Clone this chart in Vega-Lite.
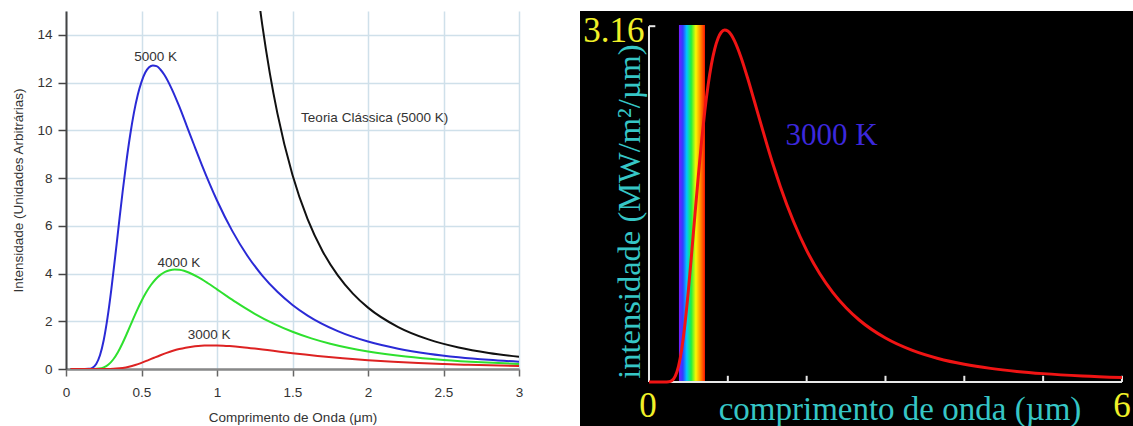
{
  "$schema": "https://vega.github.io/schema/vega-lite/v6.json",
  "background": "white",
  "padding": {"left": 11, "top": 11, "right": 0, "bottom": 0},
  "spacing": 57,
  "config": {"view": {"stroke": null}, "font": "Liberation Sans"},
  "datasets": {
    "curves": [
      {"curve": "5000 K", "lambda": 0.03, "I": 0},
      {"curve": "5000 K", "lambda": 0.1, "I": 0},
      {"curve": "5000 K", "lambda": 0.15, "I": 0.0073},
      {"curve": "5000 K", "lambda": 0.175, "I": 0.0521},
      {"curve": "5000 K", "lambda": 0.2, "I": 0.2088},
      {"curve": "5000 K", "lambda": 0.225, "I": 0.5731},
      {"curve": "5000 K", "lambda": 0.25, "I": 1.216},
      {"curve": "5000 K", "lambda": 0.275, "I": 2.149},
      {"curve": "5000 K", "lambda": 0.3, "I": 3.327},
      {"curve": "5000 K", "lambda": 0.325, "I": 4.664},
      {"curve": "5000 K", "lambda": 0.35, "I": 6.061},
      {"curve": "5000 K", "lambda": 0.375, "I": 7.427},
      {"curve": "5000 K", "lambda": 0.4, "I": 8.692},
      {"curve": "5000 K", "lambda": 0.425, "I": 9.804},
      {"curve": "5000 K", "lambda": 0.45, "I": 10.74},
      {"curve": "5000 K", "lambda": 0.475, "I": 11.48},
      {"curve": "5000 K", "lambda": 0.5, "I": 12.03},
      {"curve": "5000 K", "lambda": 0.525, "I": 12.42},
      {"curve": "5000 K", "lambda": 0.55, "I": 12.64},
      {"curve": "5000 K", "lambda": 0.575, "I": 12.72},
      {"curve": "5000 K", "lambda": 0.6, "I": 12.69},
      {"curve": "5000 K", "lambda": 0.625, "I": 12.55},
      {"curve": "5000 K", "lambda": 0.65, "I": 12.34},
      {"curve": "5000 K", "lambda": 0.7, "I": 11.74},
      {"curve": "5000 K", "lambda": 0.75, "I": 11.0},
      {"curve": "5000 K", "lambda": 0.8, "I": 10.18},
      {"curve": "5000 K", "lambda": 0.85, "I": 9.354},
      {"curve": "5000 K", "lambda": 0.9, "I": 8.545},
      {"curve": "5000 K", "lambda": 0.95, "I": 7.777},
      {"curve": "5000 K", "lambda": 1.0, "I": 7.06},
      {"curve": "5000 K", "lambda": 1.1, "I": 5.798},
      {"curve": "5000 K", "lambda": 1.2, "I": 4.758},
      {"curve": "5000 K", "lambda": 1.3, "I": 3.914},
      {"curve": "5000 K", "lambda": 1.4, "I": 3.233},
      {"curve": "5000 K", "lambda": 1.5, "I": 2.684},
      {"curve": "5000 K", "lambda": 1.6, "I": 2.24},
      {"curve": "5000 K", "lambda": 1.8, "I": 1.588},
      {"curve": "5000 K", "lambda": 2.0, "I": 1.151},
      {"curve": "5000 K", "lambda": 2.2, "I": 0.8514},
      {"curve": "5000 K", "lambda": 2.4, "I": 0.6419},
      {"curve": "5000 K", "lambda": 2.6, "I": 0.4923},
      {"curve": "5000 K", "lambda": 2.8, "I": 0.3833},
      {"curve": "5000 K", "lambda": 3.0, "I": 0.3027},
      {"curve": "4000 K", "lambda": 0.03, "I": 0},
      {"curve": "4000 K", "lambda": 0.125, "I": 0},
      {"curve": "4000 K", "lambda": 0.1875, "I": 0.0024},
      {"curve": "4000 K", "lambda": 0.21875, "I": 0.0171},
      {"curve": "4000 K", "lambda": 0.25, "I": 0.0684},
      {"curve": "4000 K", "lambda": 0.28125, "I": 0.1878},
      {"curve": "4000 K", "lambda": 0.3125, "I": 0.3984},
      {"curve": "4000 K", "lambda": 0.34375, "I": 0.7042},
      {"curve": "4000 K", "lambda": 0.375, "I": 1.0902},
      {"curve": "4000 K", "lambda": 0.40625, "I": 1.5284},
      {"curve": "4000 K", "lambda": 0.4375, "I": 1.986},
      {"curve": "4000 K", "lambda": 0.46875, "I": 2.434},
      {"curve": "4000 K", "lambda": 0.5, "I": 2.848},
      {"curve": "4000 K", "lambda": 0.53125, "I": 3.213},
      {"curve": "4000 K", "lambda": 0.5625, "I": 3.518},
      {"curve": "4000 K", "lambda": 0.59375, "I": 3.762},
      {"curve": "4000 K", "lambda": 0.625, "I": 3.943},
      {"curve": "4000 K", "lambda": 0.65625, "I": 4.069},
      {"curve": "4000 K", "lambda": 0.6875, "I": 4.141},
      {"curve": "4000 K", "lambda": 0.71875, "I": 4.169},
      {"curve": "4000 K", "lambda": 0.75, "I": 4.157},
      {"curve": "4000 K", "lambda": 0.78125, "I": 4.114},
      {"curve": "4000 K", "lambda": 0.8125, "I": 4.043},
      {"curve": "4000 K", "lambda": 0.875, "I": 3.848},
      {"curve": "4000 K", "lambda": 0.9375, "I": 3.604},
      {"curve": "4000 K", "lambda": 1.0, "I": 3.336},
      {"curve": "4000 K", "lambda": 1.0625, "I": 3.065},
      {"curve": "4000 K", "lambda": 1.125, "I": 2.8},
      {"curve": "4000 K", "lambda": 1.1875, "I": 2.548},
      {"curve": "4000 K", "lambda": 1.25, "I": 2.314},
      {"curve": "4000 K", "lambda": 1.375, "I": 1.9},
      {"curve": "4000 K", "lambda": 1.5, "I": 1.559},
      {"curve": "4000 K", "lambda": 1.625, "I": 1.283},
      {"curve": "4000 K", "lambda": 1.75, "I": 1.059},
      {"curve": "4000 K", "lambda": 1.875, "I": 0.8794},
      {"curve": "4000 K", "lambda": 2.0, "I": 0.7341},
      {"curve": "4000 K", "lambda": 2.25, "I": 0.5204},
      {"curve": "4000 K", "lambda": 2.5, "I": 0.3771},
      {"curve": "4000 K", "lambda": 2.75, "I": 0.279},
      {"curve": "4000 K", "lambda": 3.0, "I": 0.2103},
      {"curve": "3000 K", "lambda": 0.03, "I": 0},
      {"curve": "3000 K", "lambda": 0.1667, "I": 0},
      {"curve": "3000 K", "lambda": 0.25, "I": 0.0006},
      {"curve": "3000 K", "lambda": 0.2917, "I": 0.0041},
      {"curve": "3000 K", "lambda": 0.3333, "I": 0.0162},
      {"curve": "3000 K", "lambda": 0.375, "I": 0.0446},
      {"curve": "3000 K", "lambda": 0.4167, "I": 0.0945},
      {"curve": "3000 K", "lambda": 0.4583, "I": 0.1671},
      {"curve": "3000 K", "lambda": 0.5, "I": 0.2587},
      {"curve": "3000 K", "lambda": 0.5417, "I": 0.3627},
      {"curve": "3000 K", "lambda": 0.5833, "I": 0.4713},
      {"curve": "3000 K", "lambda": 0.625, "I": 0.5775},
      {"curve": "3000 K", "lambda": 0.6667, "I": 0.6759},
      {"curve": "3000 K", "lambda": 0.7083, "I": 0.7624},
      {"curve": "3000 K", "lambda": 0.75, "I": 0.8349},
      {"curve": "3000 K", "lambda": 0.7917, "I": 0.8927},
      {"curve": "3000 K", "lambda": 0.8333, "I": 0.9357},
      {"curve": "3000 K", "lambda": 0.875, "I": 0.9655},
      {"curve": "3000 K", "lambda": 0.9167, "I": 0.9828},
      {"curve": "3000 K", "lambda": 0.9583, "I": 0.9892},
      {"curve": "3000 K", "lambda": 1.0, "I": 0.9865},
      {"curve": "3000 K", "lambda": 1.0417, "I": 0.9762},
      {"curve": "3000 K", "lambda": 1.0833, "I": 0.9595},
      {"curve": "3000 K", "lambda": 1.1667, "I": 0.9131},
      {"curve": "3000 K", "lambda": 1.25, "I": 0.8552},
      {"curve": "3000 K", "lambda": 1.3333, "I": 0.7917},
      {"curve": "3000 K", "lambda": 1.4167, "I": 0.7274},
      {"curve": "3000 K", "lambda": 1.5, "I": 0.6645},
      {"curve": "3000 K", "lambda": 1.5833, "I": 0.6047},
      {"curve": "3000 K", "lambda": 1.6667, "I": 0.549},
      {"curve": "3000 K", "lambda": 1.8333, "I": 0.4508},
      {"curve": "3000 K", "lambda": 2.0, "I": 0.37},
      {"curve": "3000 K", "lambda": 2.1667, "I": 0.3044},
      {"curve": "3000 K", "lambda": 2.3333, "I": 0.2514},
      {"curve": "3000 K", "lambda": 2.5, "I": 0.2087},
      {"curve": "3000 K", "lambda": 2.6667, "I": 0.1742},
      {"curve": "3000 K", "lambda": 3.0, "I": 0.1235},
      {"curve": "Teoria Clássica", "lambda": 1.25, "I": 16.855},
      {"curve": "Teoria Clássica", "lambda": 1.3, "I": 14.408},
      {"curve": "Teoria Clássica", "lambda": 1.35, "I": 12.389},
      {"curve": "Teoria Clássica", "lambda": 1.4, "I": 10.712},
      {"curve": "Teoria Clássica", "lambda": 1.5, "I": 8.128},
      {"curve": "Teoria Clássica", "lambda": 1.6, "I": 6.279},
      {"curve": "Teoria Clássica", "lambda": 1.7, "I": 4.927},
      {"curve": "Teoria Clássica", "lambda": 1.8, "I": 3.92},
      {"curve": "Teoria Clássica", "lambda": 1.9, "I": 3.158},
      {"curve": "Teoria Clássica", "lambda": 2.0, "I": 2.572},
      {"curve": "Teoria Clássica", "lambda": 2.2, "I": 1.757},
      {"curve": "Teoria Clássica", "lambda": 2.4, "I": 1.24},
      {"curve": "Teoria Clássica", "lambda": 2.6, "I": 0.9005},
      {"curve": "Teoria Clássica", "lambda": 2.8, "I": 0.6695},
      {"curve": "Teoria Clássica", "lambda": 3.0, "I": 0.508}
    ],
    "curveLabels": [
      {"label": "5000 K", "lambda": 0.594, "I": 13.07},
      {"label": "4000 K", "lambda": 0.748, "I": 4.44},
      {"label": "3000 K", "lambda": 0.948, "I": 1.42},
      {"label": "Teoria Clássica (5000 K)", "lambda": 2.044, "I": 10.53}
    ],
    "spectrum": [
      {"lambda": 0, "M": 0},
      {"lambda": 0.1, "M": 0},
      {"lambda": 0.2, "M": 0},
      {"lambda": 0.25, "M": 0.0018},
      {"lambda": 0.2917, "M": 0.0128},
      {"lambda": 0.3333, "M": 0.0513},
      {"lambda": 0.375, "M": 0.1408},
      {"lambda": 0.4167, "M": 0.2988},
      {"lambda": 0.4583, "M": 0.5281},
      {"lambda": 0.5, "M": 0.8175},
      {"lambda": 0.5417, "M": 1.146},
      {"lambda": 0.5833, "M": 1.4893},
      {"lambda": 0.625, "M": 1.825},
      {"lambda": 0.6667, "M": 2.1358},
      {"lambda": 0.7083, "M": 2.409},
      {"lambda": 0.75, "M": 2.638},
      {"lambda": 0.7917, "M": 2.821},
      {"lambda": 0.8333, "M": 2.957},
      {"lambda": 0.875, "M": 3.051},
      {"lambda": 0.9167, "M": 3.106},
      {"lambda": 0.9583, "M": 3.126},
      {"lambda": 1.0, "M": 3.117},
      {"lambda": 1.0417, "M": 3.085},
      {"lambda": 1.0833, "M": 3.032},
      {"lambda": 1.1667, "M": 2.885},
      {"lambda": 1.25, "M": 2.702},
      {"lambda": 1.3333, "M": 2.502},
      {"lambda": 1.4167, "M": 2.299},
      {"lambda": 1.5, "M": 2.1},
      {"lambda": 1.5833, "M": 1.911},
      {"lambda": 1.6667, "M": 1.735},
      {"lambda": 1.8333, "M": 1.425},
      {"lambda": 2.0, "M": 1.169},
      {"lambda": 2.1667, "M": 0.9617},
      {"lambda": 2.3333, "M": 0.7943},
      {"lambda": 2.5, "M": 0.6594},
      {"lambda": 2.6667, "M": 0.5505},
      {"lambda": 3.0, "M": 0.3902},
      {"lambda": 3.3333, "M": 0.2827},
      {"lambda": 3.6667, "M": 0.2092},
      {"lambda": 4.0, "M": 0.1577},
      {"lambda": 4.3333, "M": 0.121},
      {"lambda": 4.6667, "M": 0.0942},
      {"lambda": 5.0, "M": 0.0744},
      {"lambda": 5.5, "M": 0.0534},
      {"lambda": 6.0, "M": 0.0393}
    ],
    "axisLines": [
      {"x": 0, "x2": 0, "y": 0, "y2": 3.16},
      {"x": 0, "x2": 0.08, "y": 3.16, "y2": 3.16},
      {"x": 0, "x2": 6, "y": 0, "y2": 0},
      {"x": 1, "x2": 1, "y": 0, "y2": 0.055},
      {"x": 2, "x2": 2, "y": 0, "y2": 0.055},
      {"x": 3, "x2": 3, "y": 0, "y2": 0.055},
      {"x": 4, "x2": 4, "y": 0, "y2": 0.055},
      {"x": 5, "x2": 5, "y": 0, "y2": 0.055},
      {"x": 6, "x2": 6, "y": 0, "y2": 0.055}
    ]
  },
  "hconcat": [
    {
      "width": 453,
      "height": 358,
      "layer": [
        {
          "data": {"name": "curves"},
          "mark": {"type": "line", "interpolate": "monotone", "strokeWidth": 2, "clip": true},
          "encoding": {
            "x": {
              "field": "lambda", "type": "quantitative",
              "scale": {"domain": [0, 3], "nice": false, "zero": false},
              "axis": {
                "values": [0, 0.5, 1, 1.5, 2, 2.5, 3], "format": "~g",
                "title": "Comprimento de Onda (μm)",
                "grid": true, "gridColor": "#cfe0ea", "gridWidth": 1.5,
                "domainColor": "#888888", "domainWidth": 2.5,
                "tickColor": "#666666", "tickSize": 7, "tickWidth": 1.5,
                "labelPadding": 9, "titlePadding": 12,
                "labelFont": "Liberation Sans", "titleFont": "Liberation Sans",
                "labelFontSize": 13.5, "titleFontSize": 13.5,
                "labelColor": "#333333", "titleColor": "#333333", "titleFontWeight": "normal",
                "labelFlush": false, "labelOverlap": false, "labelBound": false
              }
            },
            "y": {
              "field": "I", "type": "quantitative",
              "scale": {"domain": [0, 15], "nice": false, "zero": true},
              "axis": {
                "values": [0, 2, 4, 6, 8, 10, 12, 14], "format": "d",
                "title": "Intensidade (Unidades Arbitrárias)",
                "grid": true, "gridColor": "#cfe0ea", "gridWidth": 1.5,
                "domainColor": "#444444", "domainWidth": 2,
                "tickColor": "#444444", "tickSize": 8, "tickWidth": 1.5,
                "labelPadding": 6, "titlePadding": 11,
                "labelFont": "Liberation Sans", "titleFont": "Liberation Sans",
                "labelFontSize": 13.5, "titleFontSize": 13.5,
                "labelColor": "#333333", "titleColor": "#333333", "titleFontWeight": "normal",
                "labelOverlap": false, "labelBound": false
              }
            },
            "color": {
              "field": "curve", "type": "nominal",
              "scale": {"domain": ["5000 K", "4000 K", "3000 K", "Teoria Clássica"], "range": ["#2a2ad6", "#2ee02e", "#dd2222", "#111111"]},
              "legend": null
            }
          }
        },
        {
          "data": {"name": "curveLabels"},
          "mark": {"type": "text", "font": "Liberation Sans", "fontSize": 13.5, "color": "#333333", "align": "center", "baseline": "middle"},
          "encoding": {
            "x": {"field": "lambda", "type": "quantitative", "scale": {"domain": [0, 3], "nice": false, "zero": false}},
            "y": {"field": "I", "type": "quantitative", "scale": {"domain": [0, 15], "nice": false, "zero": true}},
            "text": {"field": "label"}
          }
        }
      ]
    },
    {
      "width": 553,
      "height": 415,
      "view": {"fill": "black", "stroke": null},
      "layer": [
        {
          "data": {"values": [{"start": 0.38, "end": 0.71, "bottom": 0, "top": 3.17}]},
          "mark": {
            "type": "rect",
            "fill": {
              "gradient": "linear", "x1": 0, "x2": 1, "y1": 0, "y2": 0,
              "stops": [
                {"offset": 0, "color": "#7a1cff"},
                {"offset": 0.15, "color": "#3040ff"},
                {"offset": 0.3, "color": "#00c8ff"},
                {"offset": 0.47, "color": "#20f040"},
                {"offset": 0.65, "color": "#f8f800"},
                {"offset": 0.82, "color": "#ff9000"},
                {"offset": 1, "color": "#ff1800"}
              ]
            }
          },
          "encoding": {
            "x": {"field": "start", "type": "quantitative", "scale": {"domain": [-0.8753, 6.14], "nice": false, "zero": false}, "axis": null},
            "x2": {"field": "end"},
            "y": {"field": "bottom", "type": "quantitative", "scale": {"domain": [-0.3908, 3.295], "nice": false, "zero": false}, "axis": null},
            "y2": {"field": "top"}
          }
        },
        {
          "data": {"name": "axisLines"},
          "mark": {"type": "rule", "color": "#e8e8e8", "strokeWidth": 2},
          "encoding": {
            "x": {"field": "x", "type": "quantitative", "scale": {"domain": [-0.8753, 6.14], "nice": false, "zero": false}, "axis": null},
            "x2": {"field": "x2"},
            "y": {"field": "y", "type": "quantitative", "scale": {"domain": [-0.3908, 3.295], "nice": false, "zero": false}, "axis": null},
            "y2": {"field": "y2"}
          }
        },
        {
          "data": {"name": "spectrum"},
          "mark": {"type": "line", "interpolate": "monotone", "color": "#f01414", "strokeWidth": 3},
          "encoding": {
            "x": {"field": "lambda", "type": "quantitative", "scale": {"domain": [-0.8753, 6.14], "nice": false, "zero": false}, "axis": null},
            "y": {"field": "M", "type": "quantitative", "scale": {"domain": [-0.3908, 3.295], "nice": false, "zero": false}, "axis": null}
          }
        },
        {
          "data": {"values": [
            {"t": "3.16", "x": -0.444, "y": 3.02},
            {"t": "0", "x": -0.013, "y": -0.311},
            {"t": "6", "x": 6.0, "y": -0.311}
          ]},
          "mark": {"type": "text", "font": "Liberation Serif", "fontSize": 35, "color": "#f0f028", "align": "center", "baseline": "alphabetic"},
          "encoding": {
            "x": {"field": "x", "type": "quantitative", "scale": {"domain": [-0.8753, 6.14], "nice": false, "zero": false}, "axis": null},
            "y": {"field": "y", "type": "quantitative", "scale": {"domain": [-0.3908, 3.295], "nice": false, "zero": false}, "axis": null},
            "text": {"field": "t"}
          }
        },
        {
          "data": {"values": [{"t": "comprimento de onda (µm)", "x": 3.184, "y": -0.337}]},
          "mark": {"type": "text", "font": "Liberation Serif", "fontSize": 33, "color": "#36c6c6", "align": "center", "baseline": "alphabetic"},
          "encoding": {
            "x": {"field": "x", "type": "quantitative", "scale": {"domain": [-0.8753, 6.14], "nice": false, "zero": false}, "axis": null},
            "y": {"field": "y", "type": "quantitative", "scale": {"domain": [-0.3908, 3.295], "nice": false, "zero": false}, "axis": null},
            "text": {"field": "t"}
          }
        },
        {
          "data": {"values": [{"t": "intensidade (MW/m²/µm)", "x": -0.114, "y": 1.514}]},
          "mark": {"type": "text", "font": "Liberation Serif", "fontSize": 32.5, "color": "#36c6c6", "align": "center", "baseline": "alphabetic", "angle": 270},
          "encoding": {
            "x": {"field": "x", "type": "quantitative", "scale": {"domain": [-0.8753, 6.14], "nice": false, "zero": false}, "axis": null},
            "y": {"field": "y", "type": "quantitative", "scale": {"domain": [-0.3908, 3.295], "nice": false, "zero": false}, "axis": null},
            "text": {"field": "t"}
          }
        },
        {
          "data": {"values": [{"t": "3000 K", "x": 2.315, "y": 2.105}]},
          "mark": {"type": "text", "font": "Liberation Serif", "fontSize": 31, "color": "#3c28dc", "align": "center", "baseline": "alphabetic"},
          "encoding": {
            "x": {"field": "x", "type": "quantitative", "scale": {"domain": [-0.8753, 6.14], "nice": false, "zero": false}, "axis": null},
            "y": {"field": "y", "type": "quantitative", "scale": {"domain": [-0.3908, 3.295], "nice": false, "zero": false}, "axis": null},
            "text": {"field": "t"}
          }
        }
      ]
    }
  ]
}
